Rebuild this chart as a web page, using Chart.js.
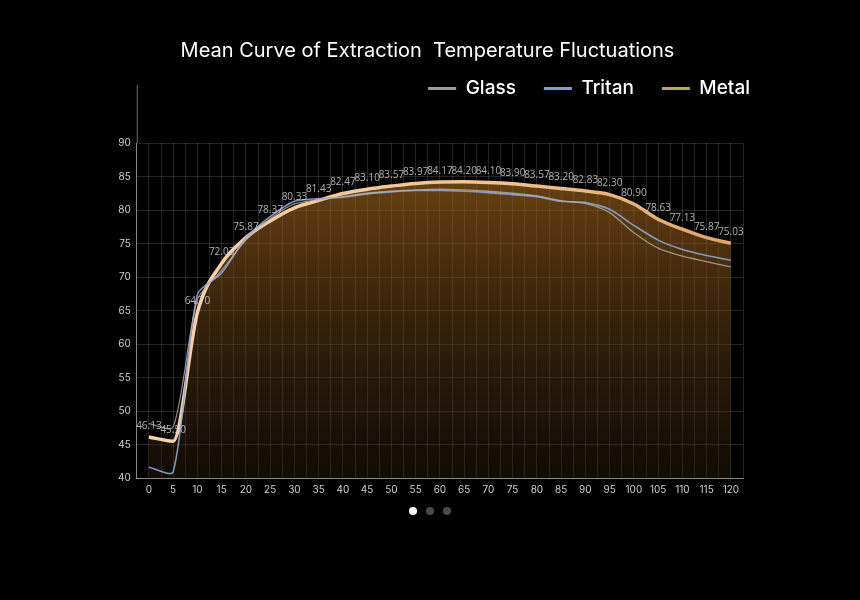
<!DOCTYPE html>
<html>
<head>
<meta charset="utf-8">
<script src="https://cdn.jsdelivr.net/npm/chart.js@4.4.0/dist/chart.umd.min.js"></script>
<style>
  html, body { margin: 0; padding: 0; background: #000; }
  #wrap { position: relative; width: 860px; height: 600px; }
  .dots { position: absolute; top: 507px; left: 0; width: 860px; text-align: center; font-size: 0; }
  .dots span { display: inline-block; width: 8px; height: 8px; border-radius: 50%; background: #4a4a4a; margin: 0 4.5px; }
  .dots span.on { background: #fff; }
</style>
</head>
<body>
<div id="wrap">
  <canvas id="graph" width="860" height="600"></canvas>
  <div class="dots"><span class="on"></span><span></span><span></span></div>
</div>
<script>
// minutes
var minutes = [0, 5, 10, 15, 20, 25, 30, 35, 40, 45, 50, 55, 60, 65, 70, 75, 80, 85, 90, 95, 100, 105, 110, 115, 120];
var glass  = [48.1, 47.6, 66.6, 71.0, 75.5, 78.7, 80.9, 81.5, 82.0, 82.5, 82.8, 83.0, 83.1, 83.0, 82.8, 82.5, 82.1, 81.4, 81.0, 79.6, 76.6, 74.3, 73.1, 72.3, 71.5];
var tritan = [41.6, 40.9, 67.4, 70.6, 75.8, 79.0, 81.3, 81.7, 81.9, 82.4, 82.7, 82.9, 82.9, 82.8, 82.6, 82.3, 82.0, 81.3, 81.1, 80.1, 77.7, 75.5, 74.1, 73.2, 72.5];
var metal  = [46.13, 45.50, 64.70, 72.03, 75.87, 78.37, 80.33, 81.43, 82.47, 83.10, 83.57, 83.97, 84.17, 84.20, 84.10, 83.90, 83.57, 83.20, 82.83, 82.30, 80.90, 78.63, 77.13, 75.87, 75.03];
var seriesNames = ["Glass", "Tritan", "Metal"];
var legendColors = ["#9b9b9b", "#7f9bd8", "#b7a95a"];
var yTicks = [40, 45, 50, 55, 60, 65, 70, 75, 80, 85, 90];

function toPoints(values) {
  return minutes.map(function (m, i) { return { x: m, y: values[i] }; });
}

var gridColor = "rgba(255,255,255,0.14)";
var axisColor = "rgba(255,255,255,0.45)";

// value labels above the metal curve
var valueLabels = {
  id: "valueLabels",
  afterDatasetsDraw: function (chart) {
    var ctx = chart.ctx;
    var meta = chart.getDatasetMeta(2);
    ctx.save();
    ctx.font = "10px 'Open Sans', 'DejaVu Sans', sans-serif";
    ctx.fillStyle = "rgba(220,220,220,0.8)";
    ctx.textAlign = "center";
    ctx.textBaseline = "bottom";
    meta.data.forEach(function (pt, i) {
      ctx.fillText(metal[i].toFixed(2), pt.x, pt.y - 6);
    });
    ctx.restore();
  }
};

// y axis line runs up past the last tick
var axisExtend = {
  id: "axisExtend",
  afterDraw: function (chart) {
    var a = chart.chartArea, ctx = chart.ctx;
    ctx.save();
    ctx.strokeStyle = axisColor;
    ctx.lineWidth = 1;
    ctx.beginPath();
    ctx.moveTo(a.left + 0.5, a.top);
    ctx.lineTo(a.left + 0.5, a.top - 58);
    ctx.stroke();
    ctx.restore();
  }
};

// extra gap under the legend, legend nudged right
var legendTweak = {
  id: "legendTweak",
  beforeInit: function (chart) {
    var lg = chart.legend;
    var fit = lg.fit, draw = lg.draw;
    lg.fit = function () {
      fit.call(lg);
      this.height += 35;
    };
    lg.draw = function () {
      var c = chart.ctx;
      c.save();
      c.translate(35, 0);
      draw.call(lg);
      c.restore();
    };
  }
};

function metalFill(context) {
  var chart = context.chart;
  var a = chart.chartArea;
  if (!a) return "rgba(120,75,20,0.6)";
  var g = chart.ctx.createLinearGradient(0, a.top, 0, a.bottom);
  g.addColorStop(0, "rgba(165,102,25,0.72)");
  g.addColorStop(0.5, "rgba(112,70,22,0.5)");
  g.addColorStop(1, "rgba(50,34,14,0.35)");
  return g;
}

function metalLine(context) {
  var chart = context.chart;
  var a = chart.chartArea;
  if (!a) return "#f2c79a";
  var g = chart.ctx.createLinearGradient(a.left, 0, a.right, 0);
  g.addColorStop(0, "#f7d3ae");
  g.addColorStop(0.6, "#f0c392");
  g.addColorStop(1, "#dea369");
  return g;
}

var ctx = document.getElementById("graph").getContext("2d");
var chart = new Chart(ctx, {
  type: "line",
  data: {
    datasets: [
      {
        label: seriesNames[0],
        data: toPoints(glass),
        borderColor: "rgba(185,180,172,0.75)",
        borderWidth: 1.3,
        pointRadius: 0,
        tension: 0.25,
        fill: false
      },
      {
        label: seriesNames[1],
        data: toPoints(tritan),
        borderColor: "rgba(140,165,215,0.9)",
        borderWidth: 1.6,
        pointRadius: 0,
        tension: 0.25,
        fill: false
      },
      {
        label: seriesNames[2],
        data: toPoints(metal),
        borderColor: metalLine,
        borderWidth: 3.5,
        pointRadius: 0,
        cubicInterpolationMode: "monotone",
        fill: "start",
        backgroundColor: metalFill
      }
    ]
  },
  options: {
    responsive: false,
    animation: false,
    layout: { padding: { left: 112, right: 117, top: 0, bottom: 98 } },
    plugins: {
      tooltip: { enabled: false },
      title: {
        display: true,
        text: "Mean Curve of Extraction  Temperature Fluctuations",
        color: "#ffffff",
        font: { family: "Inter, 'Noto Sans', sans-serif", size: 20, weight: "400" },
        padding: { top: 39, bottom: -12 }
      },
      legend: {
        position: "top",
        align: "end",
        labels: {
          color: "#ffffff",
          font: { family: "Inter, 'Noto Sans', sans-serif", size: 19, weight: "500" },
          boxWidth: 28,
          boxHeight: 3,
          padding: 28,
          generateLabels: function (c) {
            var items = Chart.defaults.plugins.legend.labels.generateLabels(c);
            items.forEach(function (it, i) {
              it.fillStyle = legendColors[i];
              it.strokeStyle = legendColors[i];
              it.lineWidth = 0;
            });
            return items;
          }
        }
      }
    },
    scales: {
      x: {
        type: "linear",
        min: -2.5,
        max: 122.5,
        grid: { color: gridColor, drawTicks: false },
        border: { color: axisColor },
        ticks: {
          stepSize: 2.5,
          autoSkip: false,
          maxRotation: 0,
          padding: 6,
          color: "#cfcfcf",
          font: { family: "Inter, 'Noto Sans', sans-serif", size: 10 },
          callback: function (v) { return minutes.indexOf(v) >= 0 ? String(v) : ""; }
        }
      },
      y: {
        min: yTicks[0],
        max: yTicks[yTicks.length - 1],
        grid: { color: gridColor, drawTicks: false },
        border: { color: axisColor },
        ticks: {
          stepSize: 5,
          padding: 6,
          color: "#cfcfcf",
          font: { family: "Inter, 'Noto Sans', sans-serif", size: 10 }
        }
      }
    }
  },
  plugins: [valueLabels, axisExtend, legendTweak]
});
</script>
</body>
</html>
